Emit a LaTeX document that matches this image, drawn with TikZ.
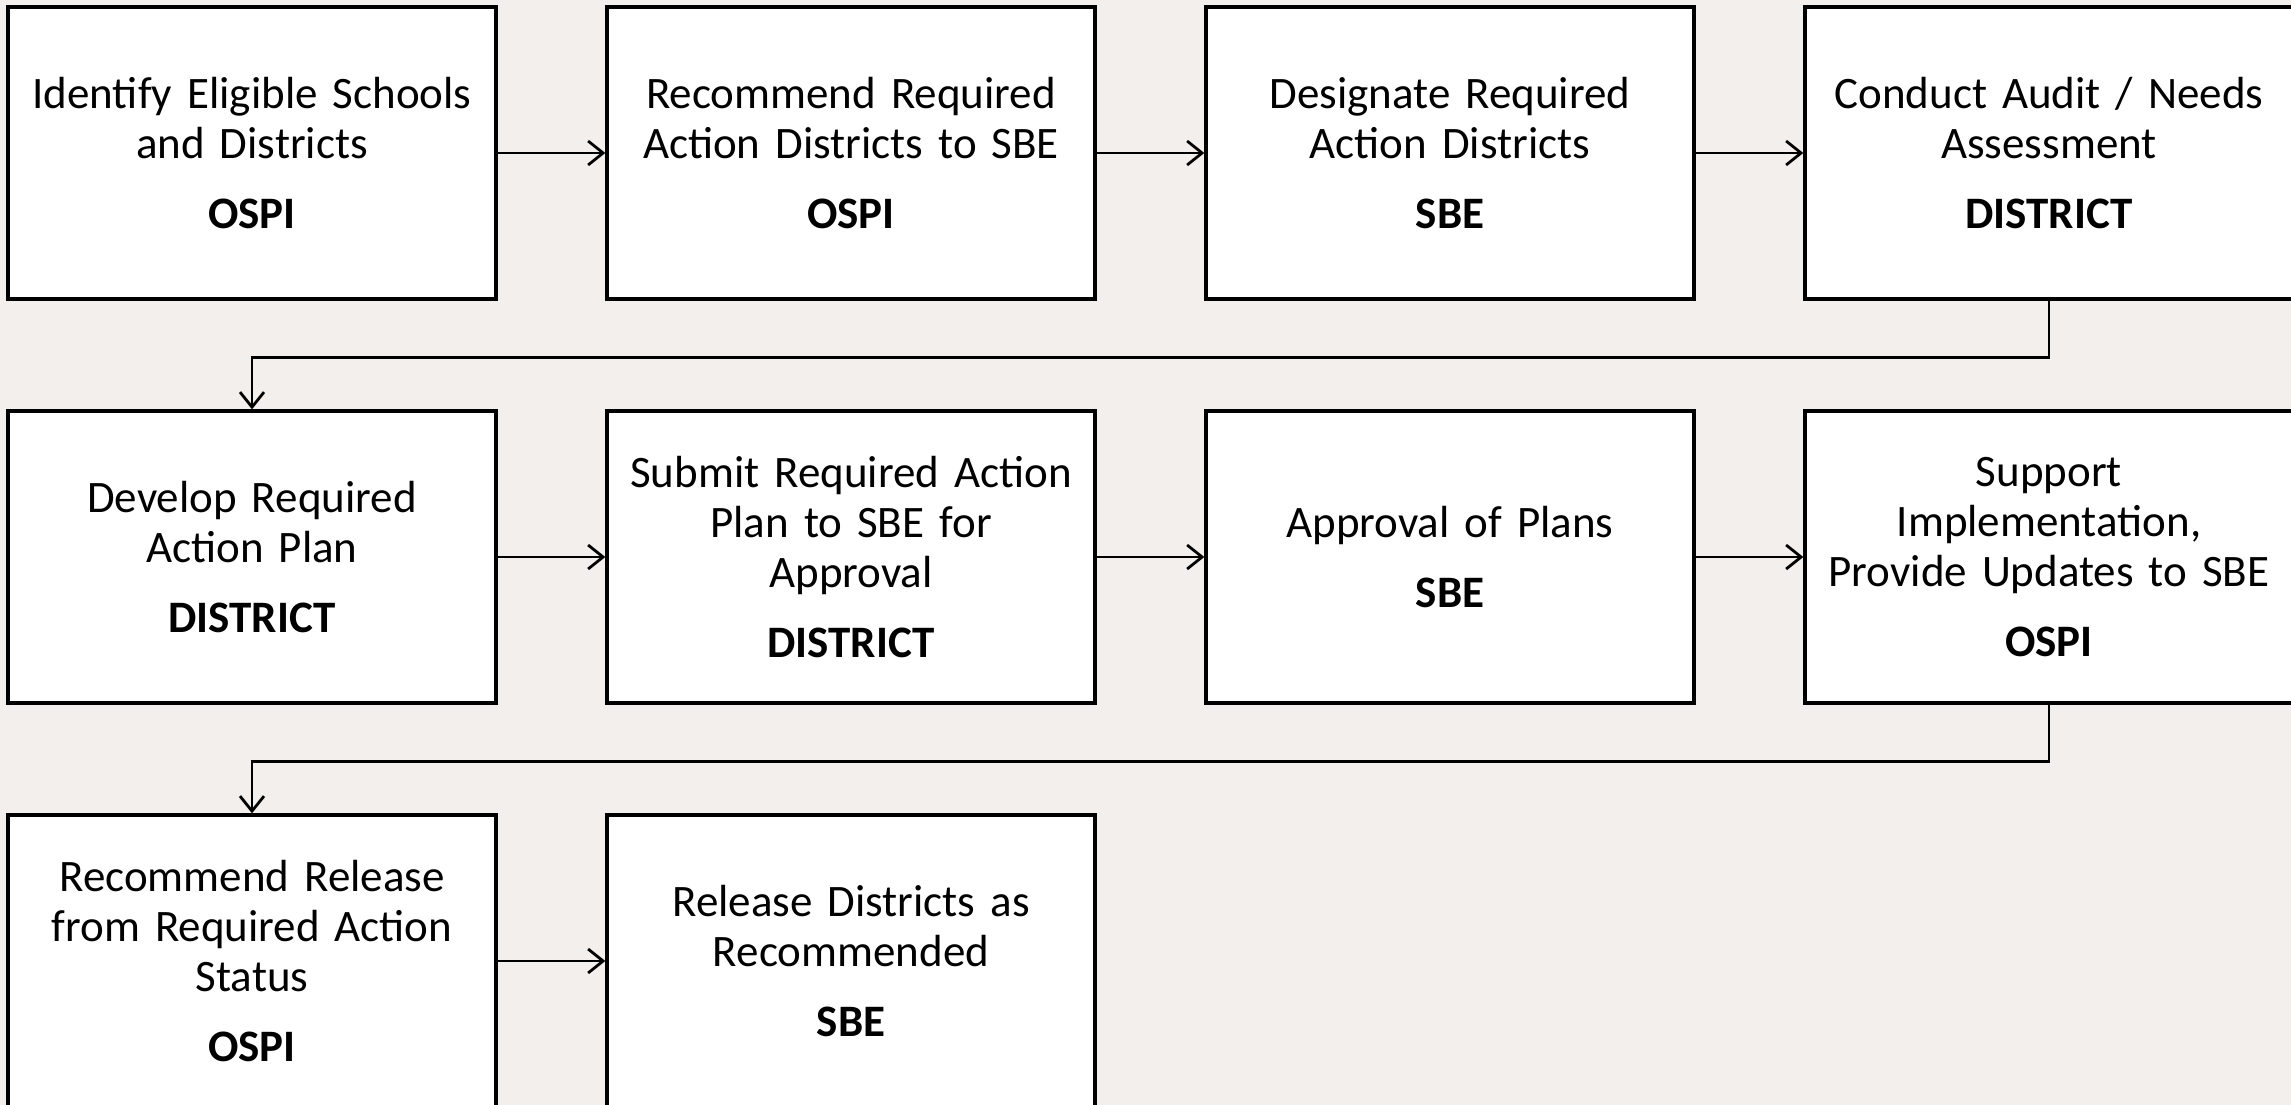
\documentclass[tikz,border=0pt]{standalone}
\usepackage{fontspec}
\setmainfont{Carlito}
\usetikzlibrary{arrows.meta}
\definecolor{bgc}{RGB}{242,239,236}
\tikzset{
  stepbox/.style={draw=black, fill=white, line width=3.3pt, minimum width=488pt, minimum height=292pt,
    inner sep=0pt, text width=480pt, align=center, font=\fontsize{45}{50}\selectfont},
  flow/.style={line width=2.8pt, -{Straight Barb[length=15pt,width=24pt,line width=2.8pt]}}
}
\newcommand{\who}[1]{\\[20pt]\textbf{#1}}
\begin{document}
\begin{tikzpicture}[x=1pt,y=-1pt]
\useasboundingbox (0,0) rectangle (2291,1105);
\fill[bgc] (-5,-5) rectangle (2300,1115);
\node[stepbox] (b1) at (252,153) {Identify Eligible Schools\\and Districts\who{OSPI}};
\node[stepbox] (b2) at (851,153) {Recommend Required\\Action Districts to SBE\who{OSPI}};
\node[stepbox] (b3) at (1450,153) {Designate Required\\Action Districts\who{SBE}};
\node[stepbox] (b4) at (2049,153) {Conduct Audit / Needs\\Assessment\who{DISTRICT}};
\node[stepbox] (b5) at (252,557) {Develop Required\\Action Plan\who{DISTRICT}};
\node[stepbox] (b6) at (851,557) {Submit Required Action\\Plan to SBE for\\Approval\who{DISTRICT}};
\node[stepbox] (b7) at (1450,557) {Approval of Plans\who{SBE}};
\node[stepbox] (b8) at (2049,557) {Support\\Implementation,\\Provide Updates to SBE\who{OSPI}};
\node[stepbox] (b9) at (252,961) {Recommend Release\\from Required Action\\Status\who{OSPI}};
\node[stepbox] (b10) at (851,961) {Release Districts as\\Recommended\who{SBE}};
\draw[flow] (b1) -- (b2);
\draw[flow] (b2) -- (b3);
\draw[flow] (b3) -- (b4);
\draw[flow] (b4.south) -- ++(0,57) -| (b5.north);
\draw[flow] (b5) -- (b6);
\draw[flow] (b6) -- (b7);
\draw[flow] (b7) -- (b8);
\draw[flow] (b8.south) -- ++(0,57) -| (b9.north);
\draw[flow] (b9) -- (b10);
\end{tikzpicture}
\end{document}
